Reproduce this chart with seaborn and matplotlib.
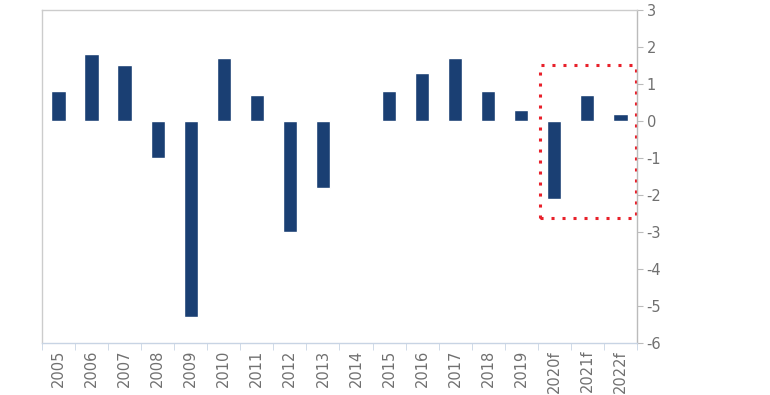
import numpy as np
import pandas as pd
import seaborn as sns
import matplotlib.pyplot as plt
from matplotlib.patches import Rectangle

years = ['2005', '2006', '2007', '2008', '2009', '2010', '2011', '2012', '2013',
         '2014', '2015', '2016', '2017', '2018', '2019', '2020f', '2021f', '2022f']
growth = [0.8, 1.8, 1.5, -1.0, -5.3, 1.7, 0.7, -3.0, -1.8,
          0.0, 0.8, 1.3, 1.7, 0.8, 0.3, -2.1, 0.7, 0.2]

df = pd.DataFrame({'year': years, 'growth': growth})

sns.set_style('white')
plt.rcParams['font.family'] = ['DejaVu Sans']
plt.rcParams['axes.unicode_minus'] = False

fig = plt.figure(figsize=(7.7, 3.95), dpi=100)
ax = fig.add_axes([0.0545, 0.1316, 0.7727, 0.8431])

sns.barplot(data=df, x='year', y='growth', color='#1a3f73', saturation=1,
            width=0.43, ax=ax)

ax.set_xlim(-0.5, len(years) - 0.5)
ax.set_ylim(-6, 3)
ax.set_yticks(range(-6, 4))
ax.yaxis.tick_right()
ax.set_xlabel('')
ax.set_ylabel('')

for s in ax.spines.values():
    s.set_color('#cccccc')
    s.set_linewidth(1)
ax.spines['right'].set_color('#bbbbbb')
ax.spines['bottom'].set_color('#c8d4e4')

ax.tick_params(axis='y', which='major', right=True, left=False, length=4,
               direction='out', color='#bbbbbb', labelsize=10.5,
               labelcolor='#707070', pad=3)
ax.tick_params(axis='x', which='major', length=0, labelsize=10.5,
               labelcolor='#707070', rotation=90, pad=5)
ax.set_xticks(np.arange(-0.5, len(years)), minor=True)
ax.tick_params(axis='x', which='minor', length=5, direction='out',
               color='#c8d4e4', bottom=True)

# highlight forecast years
ax.add_patch(Rectangle((14.57, -2.62), 2.9, 4.12, fill=False, edgecolor='#e8202a',
                       linestyle=(0, (1, 2.6)), linewidth=2.2, clip_on=False))

plt.savefig('out.png', dpi=100)
